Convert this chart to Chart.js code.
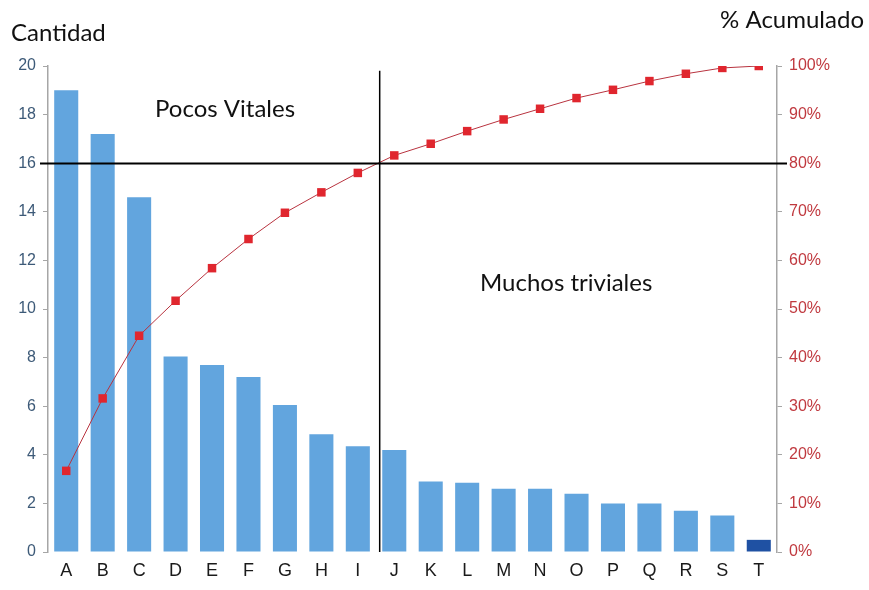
<!DOCTYPE html>
<html>
<head>
<meta charset="utf-8">
<script src="https://cdn.jsdelivr.net/npm/chart.js@4"></script>
<style>
  html, body { margin: 0; padding: 0; background: #fff; }
  #wrap { width: 869px; height: 590px; position: relative; }
</style>
</head>
<body>
<div id="wrap"><canvas id="pareto"></canvas></div>
<script>
const categories = ["A","B","C","D","E","F","G","H","I","J","K","L","M","N","O","P","Q","R","S","T"];
const cantidad = [19, 17.2, 14.6, 8.05, 7.7, 7.2, 6.05, 4.85, 4.35, 4.2, 2.9, 2.85, 2.6, 2.6, 2.4, 2.0, 2.0, 1.7, 1.5, 0.5];
const acumulado = [16.7, 31.6, 44.5, 51.7, 58.4, 64.4, 69.8, 74.0, 78.0, 81.6, 84.0, 86.6, 89.0, 91.2, 93.4, 95.1, 96.9, 98.4, 99.6, 100];
const leftTicks = [0, 2, 4, 6, 8, 10, 12, 14, 16, 18, 20];
const rightTicks = [0, 10, 20, 30, 40, 50, 60, 70, 80, 90, 100];

const barColors = cantidad.map((v, i) => i === cantidad.length - 1 ? "#1f51a3" : "#62a5de");

// reference lines + free text
const paretoMarks = {
  id: "paretoMarks",
  afterDatasetsDraw(chart) {
    const { ctx, scales } = chart;
    const y = scales.y, x = scales.x;
    ctx.save();
    ctx.strokeStyle = "#000";
    // 80% line
    ctx.lineWidth = 2;
    const yy = Math.round(y.getPixelForValue(16)) + 0.5;
    ctx.beginPath();
    ctx.moveTo(40, yy);
    ctx.lineTo(787, yy);
    ctx.stroke();
    // split between I and J
    ctx.lineWidth = 1.5;
    const xx = x.getPixelForValue(8.6);
    ctx.beginPath();
    ctx.moveTo(xx, y.getPixelForValue(19.8));
    ctx.lineTo(xx, y.bottom);
    ctx.stroke();

    ctx.fillStyle = "#111";
    ctx.font = "24px Lato, 'Open Sans', sans-serif";
    ctx.textBaseline = "middle";
    ctx.textAlign = "left";
    ctx.fillText("Cantidad", 11, 33);
    ctx.fillText("Pocos Vitales", 155, 109);
    ctx.fillText("Muchos triviales", 480, 283);
    ctx.textAlign = "right";
    ctx.fillText("% Acumulado", 864, 20);
    ctx.restore();
  }
};

new Chart(document.getElementById("pareto"), {
  data: {
    labels: categories,
    datasets: [
      {
        type: "line",
        label: "% Acumulado",
        data: acumulado,
        yAxisID: "y2",
        borderColor: "#b8333f",
        borderWidth: 1,
        pointStyle: "rect",
        pointRadius: 6,
        pointBackgroundColor: "#e0262e",
        pointBorderColor: "#e0262e",
        pointBorderWidth: 0,
        order: 1
      },
      {
        type: "bar",
        label: "Cantidad",
        data: cantidad,
        yAxisID: "y",
        backgroundColor: barColors,
        categoryPercentage: 0.66,
        barPercentage: 1,
        order: 2
      }
    ]
  },
  options: {
    responsive: true,
    maintainAspectRatio: false,
    animation: false,
    layout: { padding: { top: 66, left: 0, right: 0, bottom: 0 } },
    plugins: { legend: { display: false }, tooltip: { enabled: false } },
    scales: {
      x: {
        grid: { display: false, drawTicks: false },
        border: { display: false },
        ticks: { color: "#1a1a1a", font: { family: "'Liberation Sans', Arial, sans-serif", size: 18 }, padding: 8 },
        afterFit(s) { s.height = 38; }
      },
      y: {
        position: "left",
        min: 0, max: 20,
        afterBuildTicks(s) { s.ticks = leftTicks.map(v => ({ value: v })); },
        grid: { drawOnChartArea: false, tickLength: 5, color: "#a6a6a6" },
        border: { color: "#a6a6a6", width: 1.5 },
        ticks: { color: "#3d5a78", font: { family: "'Liberation Sans', Arial, sans-serif", size: 16 }, padding: 7 },
        afterFit(s) { s.width = 48; }
      },
      y2: {
        position: "right",
        min: 0, max: 100,
        afterBuildTicks(s) { s.ticks = rightTicks.map(v => ({ value: v })); },
        grid: { drawOnChartArea: false, tickLength: 5, color: "#a6a6a6" },
        border: { color: "#a6a6a6", width: 1.5 },
        ticks: { color: "#c0393f", font: { family: "'Liberation Sans', Arial, sans-serif", size: 16 }, padding: 7, callback: v => v + "%" },
        afterFit(s) { s.width = 92; }
      }
    }
  },
  plugins: [paretoMarks]
});
</script>
</body>
</html>
